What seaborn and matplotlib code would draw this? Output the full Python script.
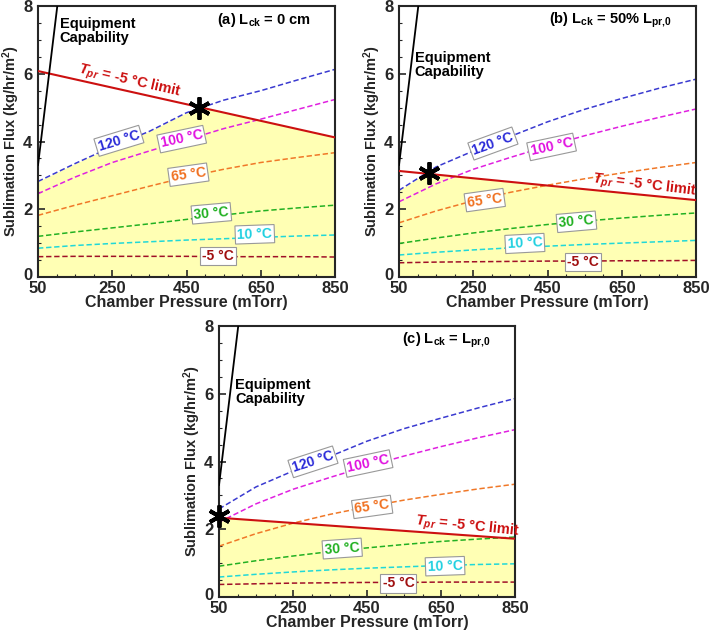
import numpy as np
import matplotlib
matplotlib.use("Agg")
import matplotlib.pyplot as plt
import matplotlib.transforms as mtransforms
import seaborn as sns

# ---------------- data ----------------
pressure = [50, 150, 250, 350, 450, 550, 650, 750, 850]
temps = ["120 °C", "100 °C", "65 °C", "30 °C", "10 °C", "-5 °C"]

flux_a = {
    "120 °C": [2.82, 3.35, 3.85, 4.30, 4.85, 5.22, 5.50, 5.82, 6.13],
    "100 °C": [2.46, 2.95, 3.38, 3.72, 4.05, 4.38, 4.66, 4.95, 5.24],
    "65 °C": [1.82, 2.12, 2.40, 2.68, 2.95, 3.18, 3.38, 3.53, 3.67],
    "30 °C": [1.20, 1.33, 1.45, 1.57, 1.70, 1.83, 1.95, 2.04, 2.12],
    "10 °C": [0.85, 0.93, 0.99, 1.04, 1.09, 1.13, 1.17, 1.21, 1.24],
    "-5 °C": [0.60, 0.61, 0.61, 0.61, 0.61, 0.60, 0.60, 0.60, 0.59],
}
flux_b = {
    "120 °C": [2.56, 3.25, 3.72, 4.15, 4.58, 4.95, 5.27, 5.57, 5.84],
    "100 °C": [2.22, 2.75, 3.18, 3.53, 3.86, 4.17, 4.45, 4.71, 4.96],
    "65 °C": [1.60, 1.95, 2.25, 2.50, 2.71, 2.90, 3.07, 3.23, 3.38],
    "30 °C": [0.99, 1.15, 1.30, 1.43, 1.55, 1.65, 1.74, 1.82, 1.89],
    "10 °C": [0.65, 0.73, 0.80, 0.86, 0.91, 0.96, 1.00, 1.04, 1.08],
    "-5 °C": [0.42, 0.44, 0.45, 0.46, 0.47, 0.47, 0.48, 0.48, 0.49],
}
flux_c = {
    "120 °C": [2.60, 3.25, 3.72, 4.15, 4.60, 4.97, 5.28, 5.58, 5.86],
    "100 °C": [2.21, 2.75, 3.18, 3.53, 3.86, 4.16, 4.44, 4.70, 4.94],
    "65 °C": [1.50, 1.87, 2.18, 2.44, 2.66, 2.86, 3.03, 3.19, 3.33],
    "30 °C": [0.91, 1.07, 1.21, 1.34, 1.45, 1.55, 1.64, 1.71, 1.77],
    "10 °C": [0.59, 0.67, 0.74, 0.80, 0.85, 0.89, 0.93, 0.96, 0.98],
    "-5 °C": [0.37, 0.39, 0.41, 0.42, 0.43, 0.43, 0.44, 0.44, 0.44],
}

limit_p = [50, 850]
limit_a = [6.08, 4.12]
limit_b = [3.13, 2.27]
limit_c = [2.34, 1.72]

equip_p = [50, 102]
equip_flux = [3.3, 8.0]

star_a = (485, 5.0)
star_b = (130, 3.07)
star_c = (50, 2.40)

titles = [r"(a) L$_{\mathrm{ck}}$ = 0 cm",
          r"(b) L$_{\mathrm{ck}}$ = 50% L$_{\mathrm{pr{,}0}}$",
          r"(c) L$_{\mathrm{ck}}$ = L$_{\mathrm{pr{,}0}}$"]

xticks = [50, 250, 450, 650, 850]
yticks = [0, 2, 4, 6, 8]

# label positions (x, y, rotation) per panel
labels_a = {"120 °C": (268, 4.02, 17), "100 °C": (437, 4.07, 12), "65 °C": (455, 3.02, 8),
            "30 °C": (517, 1.88, 5), "10 °C": (634, 1.26, 2), "-5 °C": (535, 0.63, 0)}
labels_b = {"120 °C": (303, 3.94, 20), "100 °C": (461, 3.84, 12), "65 °C": (281, 2.27, 8),
            "30 °C": (528, 1.63, 5), "10 °C": (389, 0.99, 3), "-5 °C": (546, 0.45, 0)}
labels_c = {"120 °C": (304, 3.99, 18), "100 °C": (453, 3.94, 12), "65 °C": (464, 2.66, 8),
            "30 °C": (383, 1.43, 4), "10 °C": (661, 0.91, 2), "-5 °C": (535, 0.40, 0)}
limit_lab = [(297, 5.78, -13), (712, 2.68, -7), (722, 2.07, -6)]
equip_lab = [(108, 7.25), (92, 6.27), (93, 6.05)]

# ---------------- style ----------------
sns.set_style("ticks")
plt.rcParams["font.family"] = ["Liberation Sans", "DejaVu Sans"]
plt.rcParams["font.weight"] = "bold"
plt.rcParams["mathtext.fontset"] = "custom"
plt.rcParams["mathtext.rm"] = "Liberation Sans:bold"
plt.rcParams["mathtext.it"] = "Liberation Sans:bold:italic"
plt.rcParams["mathtext.bf"] = "Liberation Sans:bold"

line_colors = {"120 °C": "#3a3ad0", "100 °C": "#e020e0", "65 °C": "#f07828",
               "30 °C": "#22b022", "10 °C": "#20d8d8", "-5 °C": "#a01028"}
text_colors = {"120 °C": "#2a2ad8", "100 °C": "#e010e0", "65 °C": "#f07020",
               "30 °C": "#20b020", "10 °C": "#20d0e0", "-5 °C": "#a01010"}
red = "#cc1010"
fill_color = "#ffffb4"

fig = plt.figure(figsize=(7.09, 6.32), dpi=100)
W, H = 709, 632
boxes = [(38, 6, 297, 271), (399, 6, 297, 271), (219, 326, 296, 271)]
panels = [(flux_a, limit_a, star_a, labels_a),
          (flux_b, limit_b, star_b, labels_b),
          (flux_c, limit_c, star_c, labels_c)]

for i, ((l, t, w, h), (flux, lim, star, labs)) in enumerate(zip(boxes, panels)):
    ax = fig.add_axes([l / W, (H - t - h) / H, w / W, h / H])
    # feasible region fill
    pg = np.linspace(pressure[0], pressure[-1], 400)
    top = np.minimum(np.interp(pg, pressure, flux["120 °C"]), np.interp(pg, limit_p, lim))
    ax.fill_between(pg, 0, top, color=fill_color, lw=0, zorder=0)
    for name in temps:
        sns.lineplot(x=pressure, y=flux[name], ax=ax, color=line_colors[name],
                     lw=1.1, linestyle="--", zorder=2)
        ax.lines[-1].set_dashes([3.5, 1.8])
        lx, ly, rot = labs[name]
        ax.text(lx, ly, name, color=text_colors[name], fontsize=10, fontweight="bold",
                ha="center", va="center", rotation=rot, rotation_mode="anchor", zorder=5,
                bbox=dict(boxstyle="square,pad=0.15", fc="white", ec="#999999", lw=0.8))
    sns.lineplot(x=limit_p, y=lim, ax=ax, color=red, lw=1.5, zorder=3)
    sns.lineplot(x=equip_p, y=equip_flux, ax=ax, color="black", lw=1.3, zorder=3)
    ax.plot([star[0]], [star[1]], marker=(6, 2, 0), markersize=16, mew=2.8,
            color="black", zorder=6, clip_on=False)
    tx, ty, trot = limit_lab[i]
    ax.text(tx, ty, r"$T_{pr}$ = -5 °C limit", color=red, fontsize=10.5, fontweight="bold",
            ha="center", va="center", rotation=trot, rotation_mode="anchor", zorder=5)
    ex, ey = equip_lab[i]
    ax.text(ex, ey, "Equipment\nCapability", color="black", fontsize=10.5, fontweight="bold",
            ha="left", va="center", linespacing=1.0, zorder=5)
    ax.text(785, 7.58, titles[i], color="black", fontsize=10.5, fontweight="bold",
            ha="right", va="center", zorder=5)

    ax.set_xlim(50, 850)
    ax.set_ylim(0, 8)
    ax.set_xticks(xticks)
    ax.set_yticks(yticks)
    ax.set_xticks(np.arange(100, 850, 50), minor=True)
    ax.set_yticks(np.arange(0.5, 8, 0.5), minor=True)
    ax.set_xticklabels([str(v) for v in xticks], fontsize=12, fontweight="bold")
    ax.set_yticklabels([str(v) for v in yticks], fontsize=12, fontweight="bold")
    ax.tick_params(which="major", direction="in", length=5, width=1.2)
    ax.tick_params(which="minor", direction="in", length=2.5, width=0.8)
    ax.tick_params(axis="y", which="major", pad=4)
    ax.tick_params(axis="x", which="major", pad=3)
    # nudge the "0" label up slightly so it sits just above the "50" label, as in the reference
    zero_lbl = ax.yaxis.get_majorticklabels()[0]
    zero_lbl.set_transform(zero_lbl.get_transform() +
                           mtransforms.ScaledTranslation(0, 2.5 / 72, fig.dpi_scale_trans))
    for s in ax.spines.values():
        s.set_linewidth(1.5)
    ax.set_xlabel("Chamber Pressure (mTorr)", fontsize=11.5, fontweight="bold", labelpad=-1)
    ax.set_ylabel("Sublimation Flux (kg/hr/m$^2$)", fontsize=10.5, fontweight="bold", labelpad=1)

fig.savefig("out.png", dpi=100)
